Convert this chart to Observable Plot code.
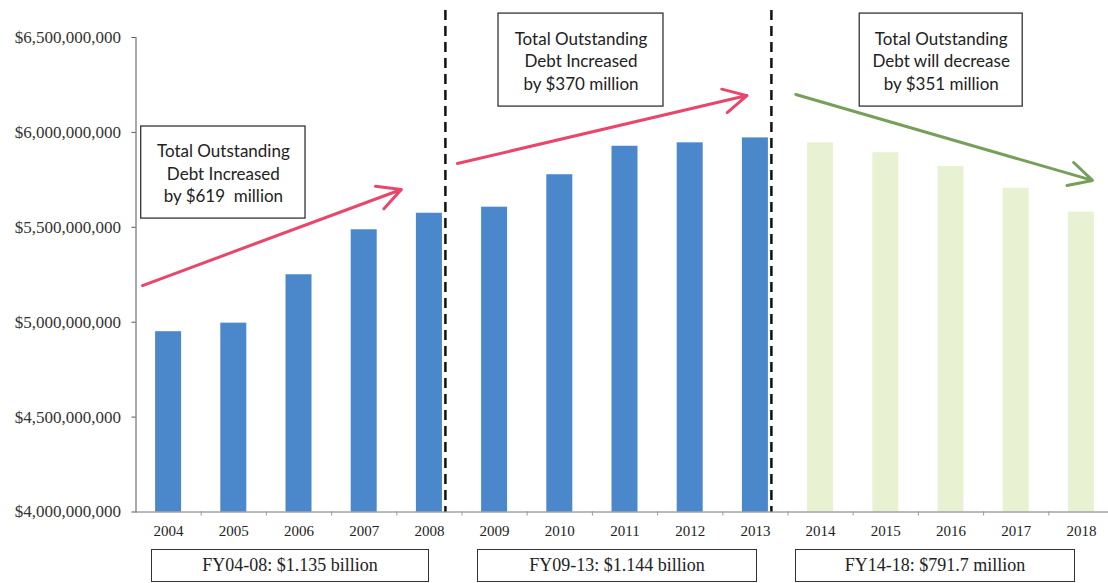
<!DOCTYPE html>
<html>
<head>
<meta charset="utf-8">
<script src="https://cdn.jsdelivr.net/npm/d3@7"></script>
<script src="https://cdn.jsdelivr.net/npm/@observablehq/plot@0.6"></script>
<style>
  body { margin: 0; background: #fff; }
  #wrap { position: relative; width: 1108px; height: 583px; overflow: hidden; background: #fff; }
  .period {
    position: absolute; top: 549px; height: 33px; box-sizing: border-box;
    border: 1.3px solid #333; background: #fff; color: #222;
    font: 18px "Liberation Serif", serif;
    display: flex; align-items: center; justify-content: center; white-space: nowrap;
  }
</style>
</head>
<body>
<div id="wrap"></div>
<script>
// Fiscal years and total outstanding debt (dollars)
const years = [2004, 2005, 2006, 2007, 2008, 2009, 2010, 2011, 2012, 2013, 2014, 2015, 2016, 2017, 2018];
const debt = [4.950e9, 4.995e9, 5.250e9, 5.487e9, 5.574e9, 5.606e9, 5.777e9, 5.927e9, 5.945e9, 5.971e9,
              5.945e9, 5.893e9, 5.820e9, 5.706e9, 5.580e9];
const phase = ["actual", "actual", "actual", "actual", "actual", "actual", "actual", "actual", "actual", "actual",
               "projected", "projected", "projected", "projected", "projected"];

// Value-axis ticks
const yTicks = [4.0e9, 4.5e9, 5.0e9, 5.5e9, 6.0e9, 6.5e9];

// Five-year periods and their totals
const periodFirst = [2004, 2009, 2014];
const periodLast = [2008, 2013, 2018];
const periodLabels = ["FY04-08: $1.135 billion", "FY09-13: $1.144 billion", "FY14-18: $791.7 million"];

// Dashed separators drawn after the last year of each period
const dividers = [2008, 2013];

// Trend arrows (year, dollars)
const trendX1 = [2003.6, 2008.43, 2013.62];
const trendY1 = [5.193e9, 5.836e9, 6.200e9];
const trendX2 = [2007.57, 2012.87, 2018.17];
const trendY2 = [5.699e9, 6.194e9, 5.747e9];
const trendColor = ["#e8466b", "#e8466b", "#76a05a"];

// Callout boxes (year, dollars) and their text
const calloutX1 = [2003.58, 2009.06, 2014.60];
const calloutX2 = [2006.10, 2011.59, 2017.10];
const calloutY1 = [5.546e9, 6.136e9, 6.136e9];
const calloutY2 = [6.031e9, 6.626e9, 6.626e9];
const calloutText = [
  "Total Outstanding\nDebt Increased\nby $619  million",
  "Total Outstanding\nDebt Increased\nby $370 million",
  "Total Outstanding\nDebt will decrease\nby $351 million"
];

const rows = years.map((year, i) => ({year, value: debt[i], phase: phase[i]}));
const trends = trendX1.map((_, i) => ({x1: trendX1[i], y1: trendY1[i], x2: trendX2[i], y2: trendY2[i], color: trendColor[i]}));
const callouts = calloutX1.map((_, i) => ({x1: calloutX1[i], x2: calloutX2[i], y1: calloutY1[i], y2: calloutY2[i], text: calloutText[i]}));
const boundaries = years.map(y => y + 0.5);

const chart = Plot.plot({
  width: 1108,
  height: 545,
  marginLeft: 135.5,
  marginRight: 0,
  marginTop: 37,
  marginBottom: 33.5,
  x: {type: "linear", domain: [2003.5, 2018.5], range: [135.5, 1113.5]},
  y: {domain: [4e9, 6.5e9]},
  style: {fontFamily: "'Liberation Serif', serif", fontSize: "15px", color: "#333", background: "#fff", overflow: "visible"},
  marks: [
    Plot.rectY(rows, {
      x1: d => d.year - 0.5, x2: d => d.year + 0.5, y1: 4e9, y2: "value",
      insetLeft: 19.6, insetRight: 19.6,
      fill: d => d.phase === "actual" ? "#4a88cb" : "#e8f2d3"
    }),
    Plot.axisY({ticks: yTicks, tickFormat: d3.format("$,"), tickSize: 4, tickPadding: 11,
                fontSize: 17, stroke: "#555", fill: "#333"}),
    Plot.frame({anchor: "left", stroke: "#555"}),
    Plot.frame({anchor: "bottom", stroke: "#777"}),
    Plot.axisX({ticks: boundaries, tickFormat: () => "", tickSize: 4, stroke: "#999"}),
    Plot.axisX({ticks: years, tickFormat: d => String(d), tickSize: 0, tickPadding: 13, fill: "#222"}),
    Plot.ruleX(dividers, {dx: 16, insetTop: -27, stroke: "#111", strokeWidth: 2.5, strokeDasharray: "10,6"}),
    Plot.arrow(trends, {x1: "x1", y1: "y1", x2: "x2", y2: "y2", stroke: d => d.color,
                        strokeWidth: 3, headLength: 13, headAngle: 55}),
    Plot.rect(callouts, {x1: "x1", x2: "x2", y1: "y1", y2: "y2", fill: "#fff", stroke: "#333", strokeWidth: 1.3}),
    Plot.text(callouts, {x: d => (d.x1 + d.x2) / 2, y: d => (d.y1 + d.y2) / 2, text: "text",
                         fontFamily: "Lato, sans-serif", fontSize: 17, lineHeight: 1.33, fill: "#222"})
  ]
});

const wrap = document.getElementById("wrap");
wrap.appendChild(chart);

// Period totals beneath the year labels
const xs = chart.scale("x");
const boxLeftShift = [17, 17, 25];
const boxRightShift = [0, -2, 6];
periodLabels.forEach((label, i) => {
  const left = xs.apply(periodFirst[i]) - boxLeftShift[i];
  const right = xs.apply(periodLast[i]) - boxRightShift[i];
  const box = document.createElement("div");
  box.className = "period";
  box.style.left = left + "px";
  box.style.width = (right - left) + "px";
  box.textContent = label;
  wrap.appendChild(box);
});
</script>
</body>
</html>
